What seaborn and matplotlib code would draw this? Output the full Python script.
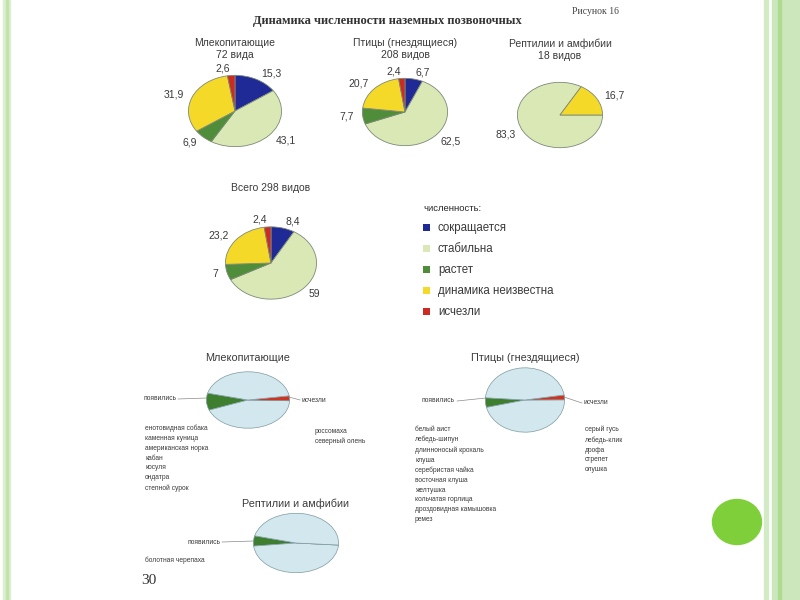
import numpy as np
import matplotlib
matplotlib.use("Agg")
import matplotlib.pyplot as plt
from matplotlib.patches import Patch, Rectangle, Ellipse
import seaborn as sns

# ─────────────────────────────────────────
# DATA
# ─────────────────────────────────────────
categories = ["сокращается", "стабильна", "растет", "динамика неизвестна", "исчезли"]
cat_colors = ["#1f2a96", "#d9e8b4", "#4f8d3a", "#f5d928", "#cc2a22"]

top_titles = ["Млекопитающие\n72 вида", "Птицы (гнездящиеся)\n208 видов",
              "Рептилии и амфибии\n18 видов", "Всего 298 видов"]
mammals_pct  = [15.3, 43.1, 6.9, 31.9, 2.6]
birds_pct    = [6.7, 62.5, 7.7, 20.7, 2.4]
reptiles_pct = [0, 83.3, 0, 16.7, 0]
total_pct    = [8.4, 59, 7, 23.2, 2.4]

bot_titles = ["Млекопитающие", "Птицы (гнездящиеся)", "Рептилии и амфибии"]
bot_total = [72, 208, 18]
mammals_new = ["енотовидная собака", "каменная куница", "американская норка",
               "кабан", "косуля", "ондатра", "степной сурок"]
mammals_gone = ["россомаха", "северный олень"]
birds_new = ["белый аист", "лебедь-шипун", "длинноносый крохаль", "клуша",
             "серебристая чайка", "восточная клуша", "желтушка",
             "кольчатая горлица", "дроздовидная камышовка", "ремез"]
birds_gone = ["серый гусь", "лебедь-клик", "дрофа", "стрепет", "олушка"]
reptiles_new = ["болотная черепаха"]
reptiles_gone = []

# ─────────────────────────────────────────
# STYLE
# ─────────────────────────────────────────
sns.set_theme(style="white")
plt.rcParams["font.family"] = ["Liberation Sans", "DejaVu Sans"]
TXT = "#3a3a3a"
SERIF = ["Liberation Serif", "DejaVu Serif"]

fig = plt.figure(figsize=(8, 6), dpi=100)
fig.patch.set_facecolor("white")


def px_axes(cx, cy, w, h):
    return fig.add_axes([(cx - w / 2) / 800, 1 - (cy + h / 2) / 600, w / 800, h / 600])


def fx(x):
    return x / 800


def fy(y):
    return 1 - y / 600


def fmt(v):
    return f"{v:g}".replace(".", ",")


# ─────────────────────────────────────────
# SLIDE DECORATION
# ─────────────────────────────────────────
for x0, w, c in [(3, 7, "#dcefcf"), (5.5, 2.5, "#c2e4ab"),
                 (764, 4, "#d3ebc4"), (772, 28, "#cde7bc"), (778, 3, "#aedb90")]:
    fig.patches.append(Rectangle((fx(x0), 0), w / 800, 1, transform=fig.transFigure,
                                 color=c, zorder=0))
fig.patches.append(Ellipse((fx(737), fy(522)), 49 / 800, 45 / 600,
                           transform=fig.transFigure, color="#7ecf3a", zorder=1))

fig.text(fx(387), fy(21), "Динамика численности наземных позвоночных",
         family=SERIF, fontsize=9, fontweight="bold", color="#333",
         ha="center", va="center")
fig.text(fx(595), fy(11), "Рисунок 16", family=SERIF, fontsize=7,
         color="#444", ha="center", va="center")
fig.text(fx(149), fy(580), "30", family=SERIF, fontsize=11, color="#333",
         ha="center", va="center")

# ─────────────────────────────────────────
# TOP PIES (percent of species)
# ─────────────────────────────────────────
top_data = [mammals_pct, birds_pct, reptiles_pct, total_pct]
top_boxes = [(235, 111, 94, 72), (405, 112, 86, 68), (560, 115, 86, 66), (271, 263, 92, 73)]
top_start = [90, 90, 0, 90]
title_y = [49, 49, 50, 188]

for vals, (cx, cy, w, h), st, ty, title in zip(top_data, top_boxes, top_start, title_y, top_titles):
    ax = px_axes(cx, cy, w, h)
    v = [p for p in vals if p > 0]
    cols = [c for p, c in zip(vals, cat_colors) if p > 0]
    ax.pie(v, colors=cols, labels=[fmt(p) for p in v], startangle=st,
           counterclock=False, labeldistance=1.2,
           textprops=dict(fontsize=7.5, color=TXT),
           wedgeprops=dict(edgecolor="#7d8a78", linewidth=0.6))
    ax.set_aspect("auto")
    ax.set_xlim(-1.01, 1.01)
    ax.set_ylim(-1.01, 1.01)
    fig.text(fx(cx), fy(ty), title, fontsize=7.5, color=TXT, ha="center",
             va="center", linespacing=1.2)

# legend
handles = [Patch(facecolor=c, edgecolor="none") for c in cat_colors]
fig.legend(handles, categories, title="численность:", loc="upper left",
           bbox_to_anchor=(fx(413), fy(194)), frameon=False, alignment="left",
           fontsize=8.3, title_fontsize=6.8, handlelength=0.55, handleheight=0.55,
           handletextpad=0.7, labelspacing=0.78, labelcolor=TXT)

# ─────────────────────────────────────────
# BOTTOM PIES (appeared / disappeared species)
# ─────────────────────────────────────────
bot_new = [mammals_new, birds_new, reptiles_new]
bot_gone = [mammals_gone, birds_gone, reptiles_gone]
bot_boxes = [(248, 400, 84, 57), (525, 400, 80, 65), (296, 543, 86, 60)]
bot_start = [166, 176, 166]
bot_title_y = [358, 358, 504]
new_lbl = [(176, 399), (455, 401), (220, 542)]
gone_lbl = [(302, 400), (584, 403), None]
new_list_xy = [(145, 429), (415, 430), (145, 561)]
gone_list_xy = [(315, 432), (585, 430), None]

for i in range(3):
    cx, cy, w, h = bot_boxes[i]
    n_new, n_gone = len(bot_new[i]), len(bot_gone[i])
    rest = bot_total[i] - n_new - n_gone
    ax = px_axes(cx, cy, w, h)
    ax.pie([n_new, rest / 2, n_gone, rest / 2],
           colors=["#3d7f2e", "#d2e7ee", "#d3321f", "#d2e7ee"],
           startangle=bot_start[i], counterclock=True,
           wedgeprops=dict(edgecolor="#7f9aa0", linewidth=0.5))
    ax.set_aspect("auto")
    ax.set_xlim(-1.01, 1.01)
    ax.set_ylim(-1.01, 1.01)
    fig.text(fx(cx), fy(bot_title_y[i]), bot_titles[i], fontsize=7.8,
             color=TXT, ha="center", va="center")

    # leader labels
    lx, ly = new_lbl[i]
    fig.text(fx(lx), fy(ly), "появились", fontsize=4.8, color=TXT,
             ha="right", va="center")
    fig.add_artist(plt.Line2D([fx(lx + 2), fx(cx - w / 2 + 1)], [fy(ly), fy(cy - 2)],
                              color="#8a8a8a", lw=0.5))
    if gone_lbl[i] is not None:
        gx, gy = gone_lbl[i]
        fig.text(fx(gx), fy(gy), "исчезли", fontsize=4.8, color=TXT,
                 ha="left", va="center")
        fig.add_artist(plt.Line2D([fx(cx + w / 2 - 1), fx(gx - 2)], [fy(cy - 3), fy(gy)],
                                  color="#8a8a8a", lw=0.5))

    # species lists
    x0, y0 = new_list_xy[i]
    fig.text(fx(x0), fy(y0 - 4), "\n".join(bot_new[i]), fontsize=4.8, color=TXT,
             ha="left", va="top", linespacing=1.55)
    if gone_list_xy[i] is not None:
        x1, y1 = gone_list_xy[i]
        fig.text(fx(x1), fy(y1 - 4), "\n".join(bot_gone[i]), fontsize=4.8, color=TXT,
                 ha="left", va="top", linespacing=1.55)

plt.savefig("out.png", dpi=100, facecolor="white")
